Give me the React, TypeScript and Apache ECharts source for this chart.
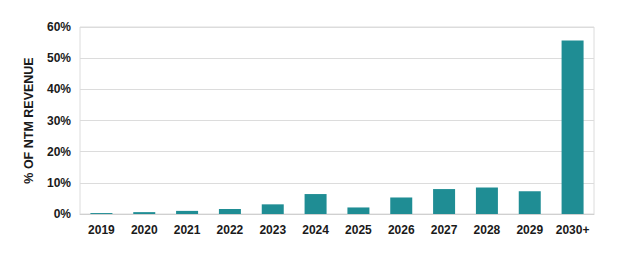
import React, { useEffect, useRef } from "react";
import * as echarts from "echarts";

const categories = ["2019", "2020", "2021", "2022", "2023", "2024", "2025", "2026", "2027", "2028", "2029", "2030+"];
const values = [0.3, 0.6, 1.0, 1.6, 3.1, 6.4, 2.1, 5.3, 8.0, 8.5, 7.3, 55.7];
const yTicks = [0, 10, 20, 30, 40, 50, 60];
const yTitle = "% OF NTM REVENUE";

export default function App() {
  const ref = useRef<HTMLDivElement>(null);
  useEffect(() => {
    if (!ref.current) return;
    const chart = echarts.init(ref.current, null, { renderer: "svg" });
    chart.setOption({
      animation: false,
      grid: {
        left: 72,
        right: 30,
        top: 19,
        bottom: 40,
        show: true,
        borderColor: "#dcdcdc",
        borderWidth: 1,
      },
      xAxis: {
        type: "category",
        data: categories,
        axisLine: { show: true, lineStyle: { color: "#d0d0d0", width: 1 } },
        axisTick: { show: false },
        axisLabel: {
          interval: 0,
          color: "#1a1a1a",
          fontFamily: "Liberation Sans, Arial, sans-serif",
          fontWeight: "bold",
          fontSize: 12,
          margin: 10,
        },
      },
      yAxis: {
        type: "value",
        min: yTicks[0],
        max: yTicks[yTicks.length - 1],
        interval: 10,
        name: yTitle,
        nameLocation: "middle",
        nameGap: 45,
        nameTextStyle: {
          color: "#1a1a1a",
          fontFamily: "Liberation Sans, Arial, sans-serif",
          fontWeight: "bold",
          fontSize: 12.5,
        },
        axisLine: { show: false },
        axisTick: { show: false },
        splitLine: { lineStyle: { color: "#dcdcdc", width: 1 } },
        axisLabel: {
          formatter: "{value}%",
          color: "#1a1a1a",
          fontFamily: "Liberation Sans, Arial, sans-serif",
          fontWeight: "bold",
          fontSize: 12,
          margin: 9,
        },
      },
      series: [
        {
          type: "bar",
          data: values,
          barWidth: 22,
          itemStyle: { color: "#1f8d94" },
        },
      ],
    });
    return () => chart.dispose();
  }, []);
  return <div ref={ref} style={{ width: 616, height: 246 }} />;
}
